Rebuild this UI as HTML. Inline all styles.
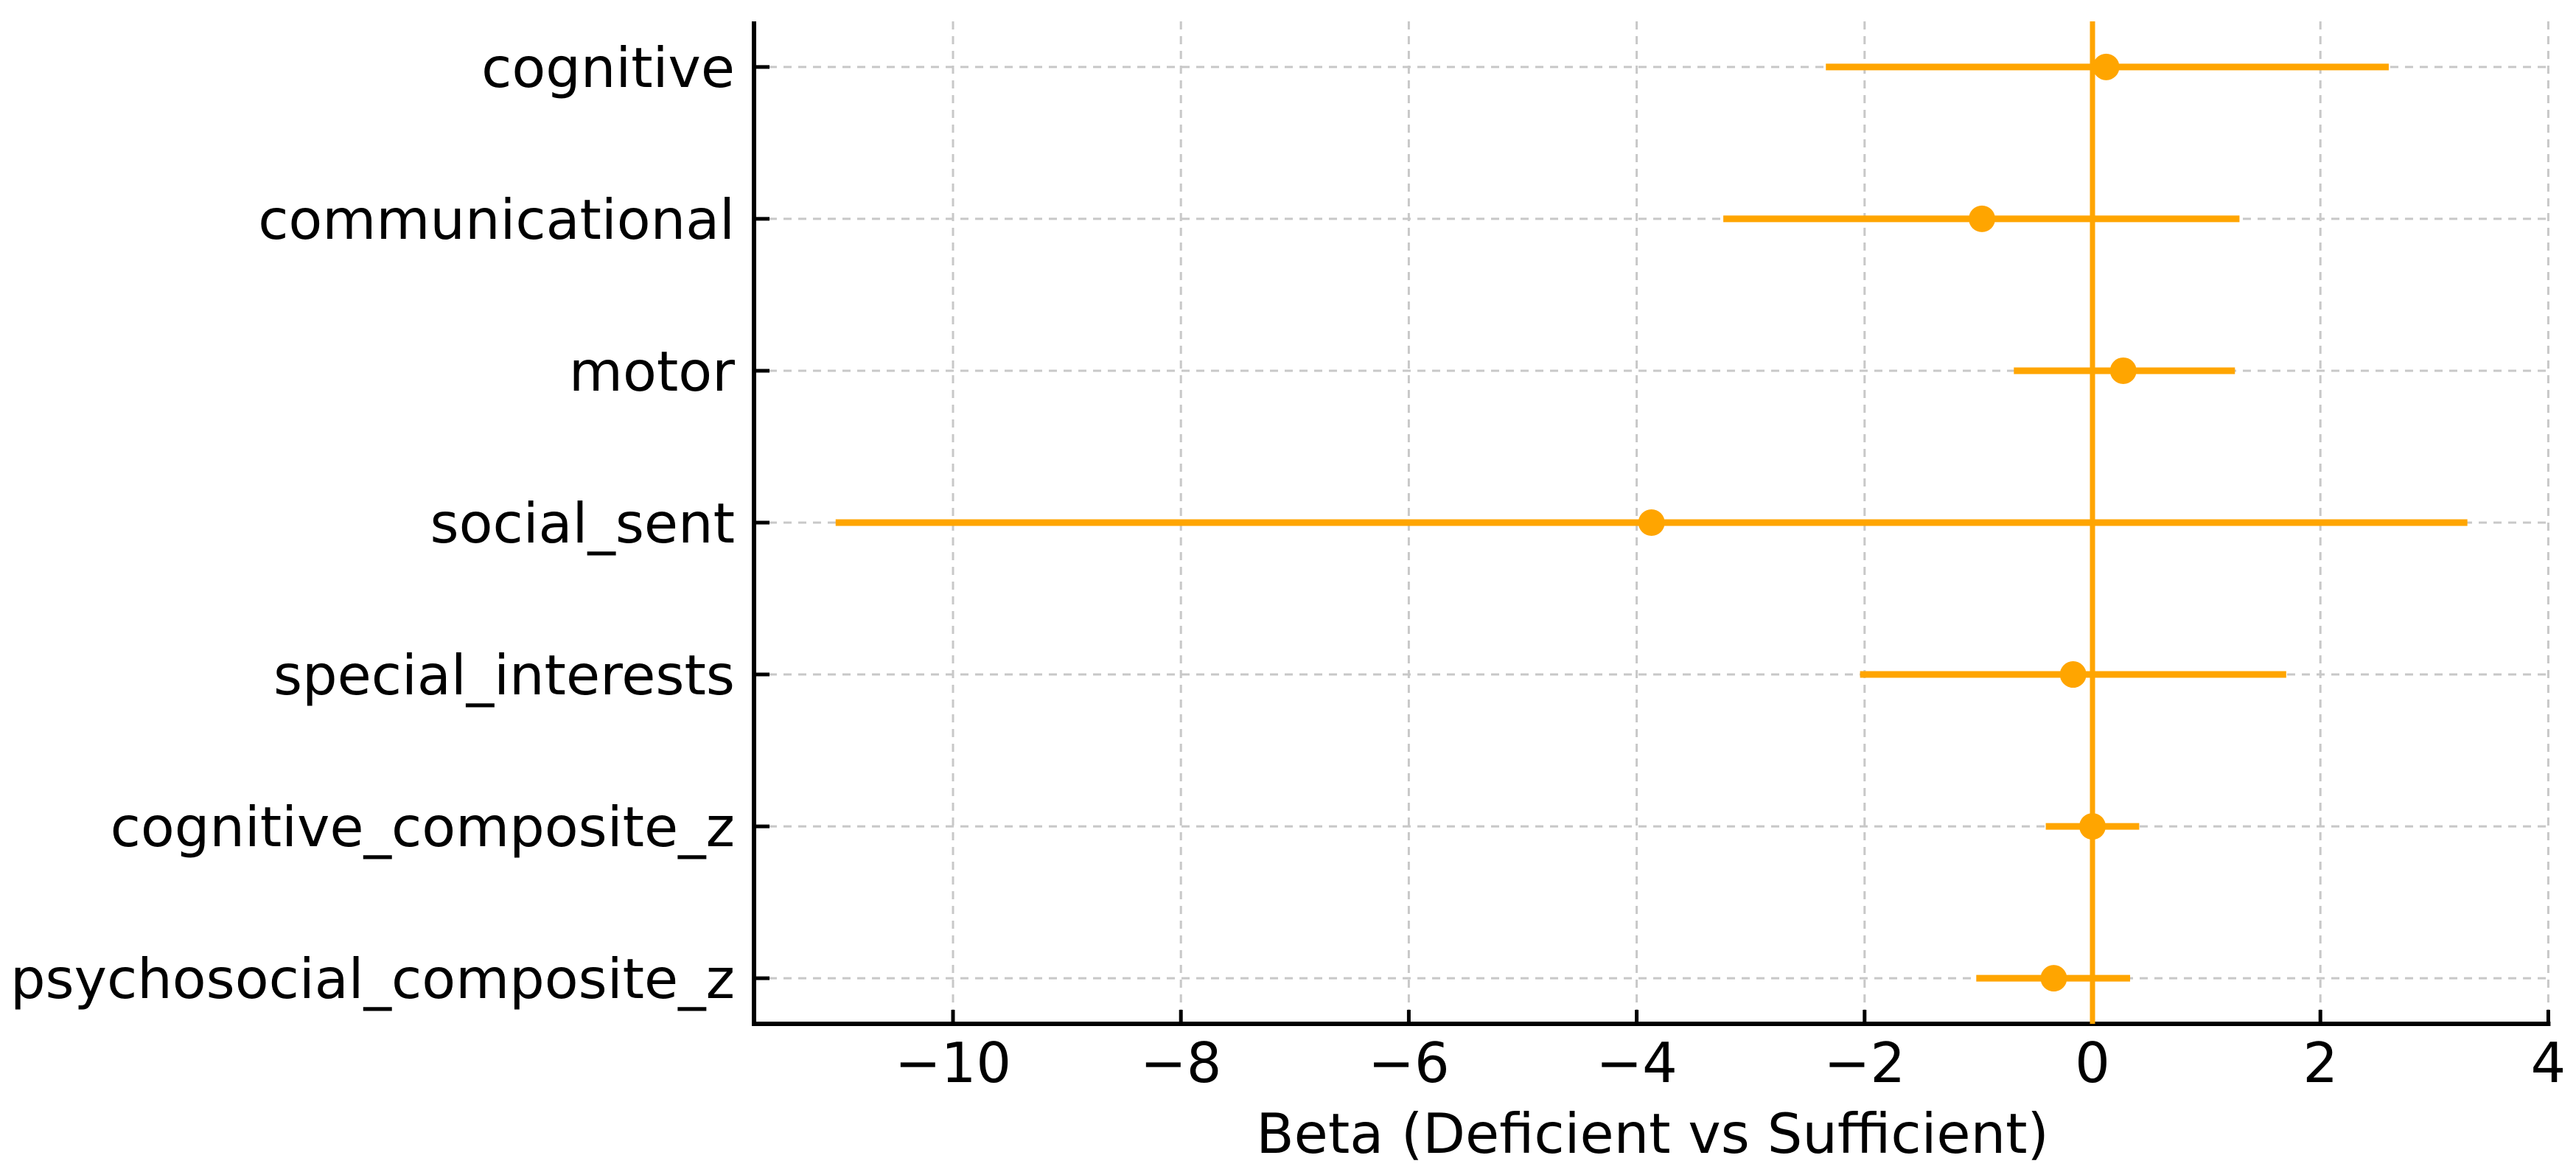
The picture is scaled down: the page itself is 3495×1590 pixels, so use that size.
<!DOCTYPE html>
<html><head><meta charset="utf-8"><style>
html,body{margin:0;padding:0;background:#fff;}
svg{display:block;}
text{font-family:"DejaVu Sans","Liberation Sans",sans-serif;fill:#000;}
</style></head><body>
<svg id="chart" width="3495" height="1590" viewBox="0 0 3495 1590" xmlns="http://www.w3.org/2000/svg">
<g id="grid"></g>
<g id="axes"></g>
<g id="marks"></g>
<text x="2242" y="1564" text-anchor="middle" font-size="75">Beta (Deficient vs Sufficient)</text>
</svg>
<script>
const categories = ["cognitive","communicational","motor","social_sent","special_interests","cognitive_composite_z","psychosocial_composite_z"];
const betas = [0.12,-0.97,0.27,-3.87,-0.17,0.0,-0.34];
const lowers = [-2.34,-3.24,-0.69,-11.03,-2.04,-0.41,-1.02];
const uppers = [2.60,1.29,1.25,3.29,1.70,0.41,0.33];
const xTicks = [-10,-8,-6,-4,-2,0,2,4];
const xTickLabels = ["\u221210","\u22128","\u22126","\u22124","\u22122","0","2","4"];

const NS="http://www.w3.org/2000/svg";
const L=1023, T=29, B=1389;
const X0=2839, UNIT=154.6;
function xs(v){return X0+v*UNIT;}
const R=xs(4);
const yMin=-0.3, yMax=categories.length-1+0.3;
function ys(i){return T+(i-yMin)/(yMax-yMin)*(B-T);}
function mk(tag,attrs,parent){const e=document.createElementNS(NS,tag);for(const k in attrs)e.setAttribute(k,attrs[k]);parent.appendChild(e);return e;}
const grid=document.getElementById('grid'), axes=document.getElementById('axes'), marks=document.getElementById('marks');

xTicks.forEach((t,i)=>{
  const x=xs(t);
  const g=mk('line',{x1:x,x2:x,y1:T,y2:B,stroke:'#c8c8c8','stroke-width':3,'stroke-dasharray':'11 9'},grid);
  
  
  const tk=mk('line',{x1:x,x2:x,y1:B,y2:B-19,stroke:'#000','stroke-width':5},axes);
  
  
  const tl=mk('text',{x:x,y:1468,'text-anchor':'middle','font-size':75},axes);
  tl.textContent=xTickLabels[i];
  
  
});
categories.forEach((c,i)=>{
  const y=ys(i);
  const g=mk('line',{x1:L,x2:R,y1:y,y2:y,stroke:'#c8c8c8','stroke-width':3,'stroke-dasharray':'11 9'},grid);
  
  
  const tk=mk('line',{x1:L,x2:L+21,y1:y,y2:y,stroke:'#000','stroke-width':5},axes);
  
  
  const tl=mk('text',{x:997,y:y+27,'text-anchor':'end','font-size':75},axes);
  tl.textContent=c;
  
  
});
const sl=mk('line',{x1:L,x2:L,y1:T,y2:B+3,stroke:'#000','stroke-width':6},axes);


const sb=mk('line',{x1:L-3,x2:R+3,y1:B,y2:B,stroke:'#000','stroke-width':6},axes);



categories.forEach((c,i)=>{
  const y=ys(i);
  const e=mk('line',{x1:xs(lowers[i]),x2:xs(uppers[i]),y1:y,y2:y,stroke:'#FFA500','stroke-width':9},marks);
  
  
});
const zl=mk('line',{x1:xs(0),x2:xs(0),y1:T,y2:B,stroke:'#FFA500','stroke-width':7},marks);


categories.forEach((c,i)=>{
  const p=mk('circle',{cx:xs(betas[i]),cy:ys(i),r:18,fill:'#FFA500'},marks);
  
  
});
</script>
</body></html>
